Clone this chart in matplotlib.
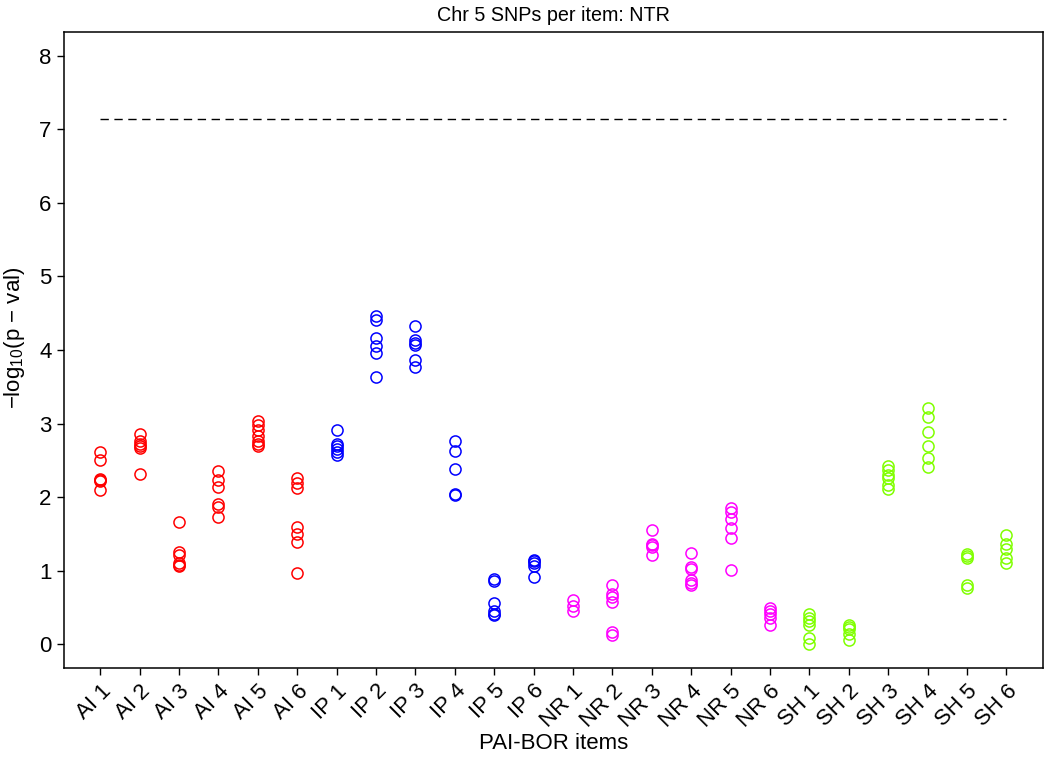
import matplotlib
matplotlib.use('Agg')
import matplotlib.pyplot as plt
import numpy as np

plt.rcParams['font.family'] = ['Liberation Sans', 'DejaVu Sans']
plt.rcParams['mathtext.default'] = 'regular'

# Items and colours per group
items = ['AI 1', 'AI 2', 'AI 3', 'AI 4', 'AI 5', 'AI 6',
         'IP 1', 'IP 2', 'IP 3', 'IP 4', 'IP 5', 'IP 6',
         'NR 1', 'NR 2', 'NR 3', 'NR 4', 'NR 5', 'NR 6',
         'SH 1', 'SH 2', 'SH 3', 'SH 4', 'SH 5', 'SH 6']
group_colors = {'AI': '#FF0000', 'IP': '#0000FF', 'NR': '#FF00FF', 'SH': '#80FF00'}

# -log10(p) values per item
pvals = {
    'AI 1': [2.62, 2.51, 2.25, 2.23, 2.22, 2.10],
    'AI 2': [2.86, 2.76, 2.72, 2.70, 2.67, 2.31],
    'AI 3': [1.66, 1.26, 1.22, 1.10, 1.08, 1.07],
    'AI 4': [2.35, 2.23, 2.14, 1.91, 1.87, 1.73],
    'AI 5': [3.03, 2.98, 2.91, 2.83, 2.76, 2.72, 2.69],
    'AI 6': [2.26, 2.19, 2.13, 1.60, 1.50, 1.39, 0.97],
    'IP 1': [2.92, 2.73, 2.70, 2.66, 2.62, 2.58],
    'IP 2': [4.46, 4.41, 4.17, 4.05, 3.96, 3.63],
    'IP 3': [4.32, 4.13, 4.09, 4.07, 3.87, 3.77],
    'IP 4': [2.77, 2.63, 2.39, 2.04, 2.03],
    'IP 5': [0.89, 0.86, 0.56, 0.45, 0.42, 0.40],
    'IP 6': [1.15, 1.13, 1.10, 1.06, 0.91],
    'NR 1': [0.61, 0.52, 0.46],
    'NR 2': [0.81, 0.68, 0.64, 0.57, 0.17, 0.13],
    'NR 3': [1.55, 1.36, 1.35, 1.33, 1.21],
    'NR 4': [1.24, 1.05, 1.02, 0.88, 0.84, 0.81],
    'NR 5': [1.85, 1.80, 1.70, 1.58, 1.45, 1.01],
    'NR 6': [0.50, 0.46, 0.41, 0.36, 0.27],
    'SH 1': [0.41, 0.36, 0.32, 0.27, 0.09, 0.00],
    'SH 2': [0.27, 0.24, 0.21, 0.14, 0.06],
    'SH 3': [2.43, 2.37, 2.30, 2.26, 2.17, 2.11],
    'SH 4': [3.21, 3.09, 2.88, 2.69, 2.53, 2.41],
    'SH 5': [1.23, 1.20, 1.17, 0.81, 0.77],
    'SH 6': [1.49, 1.36, 1.30, 1.18, 1.11],
}
threshold = 7.14

fig = plt.figure(figsize=(10.5, 7.63), dpi=100)
ax = fig.add_axes([0.061, 0.1245, 0.932, 0.8335])

for i, item in enumerate(items):
    vals = pvals[item]
    ax.plot([i + 1] * len(vals), vals, linestyle='none', marker='o',
            markersize=8, markerfacecolor='none', markeredgewidth=1.1,
            markeredgecolor=group_colors[item[:2]])

# genome-wide significance line
ax.plot([1, len(items)], [threshold, threshold], color='black',
        linestyle=(0, (6, 4)), linewidth=1.0)

ax.set_xlim(1 - 0.92, len(items) + 0.92)
ax.set_ylim(-0.32, 8.32)
ax.set_yticks(range(0, 9))
ax.set_xticks(range(1, len(items) + 1))
ax.set_xticklabels(items, rotation=45, ha='right', va='top',
                   rotation_mode='anchor')
ax.tick_params(axis='both', direction='out', length=5, width=1.0,
               labelsize=16, pad=4, color='black')
for s in ax.spines.values():
    s.set_linewidth(1.1)

ax.set_title('Chr 5 SNPs per item: NTR', fontsize=14.2, pad=8)
ax.set_ylabel('−log$_{10}$(p − val)', fontsize=16)
ax.yaxis.set_label_coords(-0.038, 0.52)
ax.set_xlabel('PAI-BOR items', fontsize=16)
ax.xaxis.set_label_coords(0.5, -0.102)

plt.savefig('out.png', dpi=100)
